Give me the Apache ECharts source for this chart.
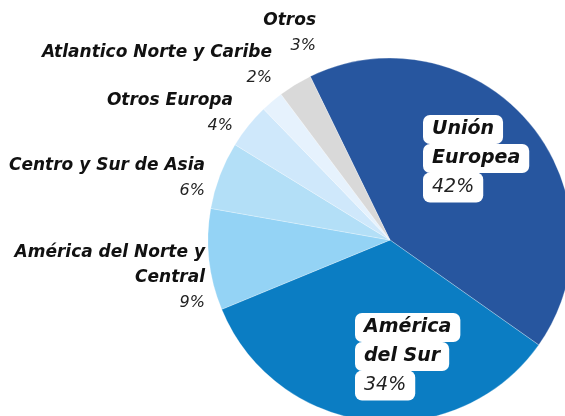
<!DOCTYPE html>
<html>
<head>
<meta charset="utf-8">
<style>
  html, body { margin: 0; padding: 0; background: #fff; }
  #chart { width: 565px; height: 416px; }
</style>
<script src="https://cdn.jsdelivr.net/npm/echarts@6/dist/echarts.min.js"></script>
</head>
<body>
<div id="chart"></div>
<script>
// datos del gráfico
var regiones = ['Unión Europea', 'América del Sur', 'América del Norte y Central', 'Centro y Sur de Asia', 'Otros Europa', 'Atlantico Norte y Caribe', 'Otros'];
var etiquetas = ['Unión\nEuropea', 'América\ndel Sur', 'América del Norte y\nCentral', 'Centro y Sur de Asia', 'Otros Europa', 'Atlantico Norte y Caribe', 'Otros'];
var porcentajes = [42, 34, 9, 6, 4, 2, 3];
var colores = ['#27569f', '#0b7dc3', '#94d3f5', '#b3dff7', '#cfe8fb', '#e6f2fd', '#d9d9d9'];

// posicion de cada etiqueta (ancla)
var posEtiquetas = [
  { x: 423, y: 115, align: 'left' },
  { x: 355, y: 313, align: 'left' },
  { x: 205, y: 240, align: 'right' },
  { x: 205, y: 153, align: 'right' },
  { x: 233, y: 88, align: 'right' },
  { x: 272, y: 40, align: 'right' },
  { x: 316, y: 8, align: 'right' }
];

var fuente = 'DejaVu Sans';

var datos = regiones.map(function (r, i) {
  var interior = i < 2;
  var lineas = etiquetas[i].split('\n');
  var txt;
  if (interior) {
    txt = lineas.map(function (l, k) { return '{' + (k === 0 ? 'nt' : 'nb') + '|' + l + '}'; }).join('\n') + '\n{pb|' + porcentajes[i] + '%}';
  } else {
    txt = lineas.map(function (l) { return '{n|' + l + '}'; }).join('\n') + '\n{p|' + porcentajes[i] + '%}';
  }
  return {
    name: r,
    value: porcentajes[i],
    itemStyle: { color: colores[i] },
    label: { formatter: txt }
  };
});

var cajaBase = { fontFamily: fuente, fontWeight: 'bold', fontStyle: 'italic', fontSize: 19, color: '#111', lineHeight: 29,
                 backgroundColor: '#fff', borderRadius: 7, align: 'left' };

var chart = echarts.init(document.getElementById('chart'));
chart.setOption({
  animation: false,
  series: [{
    type: 'pie',
    center: [390, 240],
    radius: [0, 182],
    startAngle: 116,
    clockwise: true,
    data: datos,
    itemStyle: { borderColor: 'rgba(255,255,255,0.5)', borderWidth: 0.5 },
    labelLine: { show: false },
    label: {
      show: true,
      position: 'outside',
      overflow: 'none',
      rich: {
        n: { fontFamily: fuente, fontWeight: 'bold', fontStyle: 'italic', fontSize: 17, color: '#111', lineHeight: 25, align: 'right' },
        p: { fontFamily: fuente, fontWeight: 'normal', fontStyle: 'italic', fontSize: 16, color: '#222', lineHeight: 25, align: 'right' },
        nt: Object.assign({}, cajaBase, { padding: [5, 9, 5, 9] }),
        nb: Object.assign({}, cajaBase, { padding: [5, 9, 5, 9] }),
        pb: Object.assign({}, cajaBase, { fontWeight: 'normal', color: '#222', padding: [5, 9, 6, 9] })
      }
    },
    labelLayout: function (params) {
      var p = posEtiquetas[params.dataIndex];
      return { x: p.x, y: p.y, align: p.align, verticalAlign: 'top', hideOverlap: false, moveOverlap: null };
    }
  }]
});
</script>
</body>
</html>
